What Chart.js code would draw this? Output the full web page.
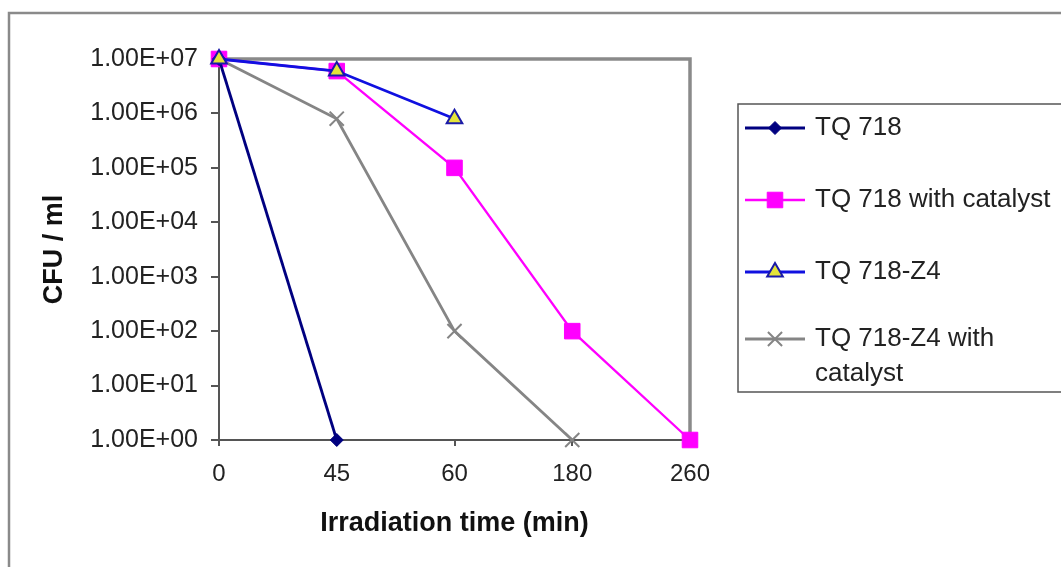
<!DOCTYPE html>
<html>
<head>
<meta charset="utf-8">
<script src="https://cdn.jsdelivr.net/npm/chart.js@4.4.1/dist/chart.umd.min.js"></script>
<style>
  html, body { margin: 0; padding: 0; background: #fff; }
  #wrap { width: 1061px; height: 567px; }
</style>
</head>
<body>
<div id="wrap"><canvas id="cfuChart" width="1061" height="567"></canvas></div>
<script>
// Irradiation time categories (x axis)
const times = ['0', '45', '60', '180', '260'];

// CFU / ml, null where the series has no point
const tq718 = [1e7, 1, null, null, null];
const tq718Catalyst = [1e7, 6e6, 1e5, 1e2, 1];
const tq718Z4 = [1e7, 6e6, 8e5, null, null];
const tq718Z4Catalyst = [1e7, 8e5, 1e2, 1, null];

// y axis ticks, powers of ten
const yTicks = [1, 10, 100, 1e3, 1e4, 1e5, 1e6, 1e7];

const seriesNames = ['TQ 718', 'TQ 718 with catalyst', 'TQ 718-Z4', 'TQ 718-Z4 with catalyst'];

const FONT = '"Liberation Sans", Arial, sans-serif';

function sciLabel(v) {
    const exp = Math.round(Math.log10(v));
    return '1.00E+' + String(exp).padStart(2, '0');
}

// Outer frame of the figure + top/right border of the plot area
const frames = {
    id: 'frames',
    beforeDraw(chart) {
        const ctx = chart.ctx;
        ctx.save();
        ctx.fillStyle = '#fff';
        ctx.fillRect(0, 0, chart.width, chart.height);
        ctx.strokeStyle = '#8a8a8a';
        ctx.lineWidth = 2.5;
        ctx.beginPath();
        ctx.moveTo(9, chart.height);
        ctx.lineTo(9, 13);
        ctx.lineTo(chart.width, 13);
        ctx.stroke();
        ctx.restore();
    },
    beforeDatasetsDraw(chart) {
        const { ctx, chartArea } = chart;
        ctx.save();
        ctx.strokeStyle = '#8a8a8a';
        ctx.lineWidth = 3.5;
        ctx.beginPath();
        ctx.moveTo(chartArea.left, chartArea.top);
        ctx.lineTo(chartArea.right, chartArea.top);
        ctx.lineTo(chartArea.right, chartArea.bottom);
        ctx.stroke();
        ctx.restore();
    }
};

// Legend box on the right, drawn from the dataset styles
const boxLegend = {
    id: 'boxLegend',
    afterDraw(chart) {
        const ctx = chart.ctx;
        const rows = [128, 200, 272, 339];
        const lineH = 35;
        ctx.save();
        ctx.strokeStyle = '#555';
        ctx.lineWidth = 1.5;
        ctx.strokeRect(738, 104, 400, 288);

        ctx.font = '26px ' + FONT;
        ctx.textBaseline = 'middle';
        ctx.textAlign = 'left';

        chart.data.datasets.forEach((ds, i) => {
            const y = rows[i];
            ctx.strokeStyle = ds.borderColor;
            ctx.lineWidth = ds.borderWidth;
            ctx.beginPath();
            ctx.moveTo(745, y);
            ctx.lineTo(805, y);
            ctx.stroke();

            ctx.fillStyle = ds.pointBackgroundColor || ds.borderColor;
            ctx.strokeStyle = ds.pointBorderColor || ds.borderColor;
            ctx.lineWidth = ds.pointBorderWidth;
            Chart.helpers.drawPoint(ctx, {
                pointStyle: ds.pointStyle,
                radius: ds.pointRadius,
                borderWidth: ds.pointBorderWidth,
                rotation: 0
            }, 775, y);

            // wrap the label inside the visible part of the box
            const words = ds.label.split(' ');
            const lines = [];
            let cur = '';
            words.forEach(w => {
                const test = cur ? cur + ' ' + w : w;
                if (ctx.measureText(test).width > 244 && cur) {
                    lines.push(cur);
                    cur = w;
                } else {
                    cur = test;
                }
            });
            lines.push(cur);
            ctx.fillStyle = '#222';
            lines.forEach((t, k) => ctx.fillText(t, 815, y + k * lineH));
        });
        ctx.restore();
    }
};

new Chart(document.getElementById('cfuChart'), {
    type: 'line',
    data: {
        labels: times,
        datasets: [
            {
                label: seriesNames[0], data: tq718,
                borderColor: '#000080', backgroundColor: '#000080',
                pointBackgroundColor: '#000080', pointBorderColor: '#000080',
                pointStyle: 'rectRot', pointRadius: 6.5, pointBorderWidth: 1,
                borderWidth: 2.8, order: 1, clip: false
            },
            {
                label: seriesNames[1], data: tq718Catalyst,
                borderColor: '#ff00ff', backgroundColor: '#ff00ff',
                pointBackgroundColor: '#ff00ff', pointBorderColor: '#ff00ff',
                pointStyle: 'rect', pointRadius: 11, pointBorderWidth: 1,
                borderWidth: 2.3, order: 2, clip: false
            },
            {
                label: seriesNames[2], data: tq718Z4,
                borderColor: '#1010e0', backgroundColor: '#1010e0',
                pointBackgroundColor: '#e4e43a', pointBorderColor: '#1a1aa8',
                pointStyle: 'triangle', pointRadius: 9, pointBorderWidth: 2,
                borderWidth: 2.8, order: 0, clip: false
            },
            {
                label: seriesNames[3], data: tq718Z4Catalyst,
                borderColor: '#858585', backgroundColor: '#858585',
                pointBackgroundColor: '#858585', pointBorderColor: '#858585',
                pointStyle: 'crossRot', pointRadius: 10, pointBorderWidth: 2,
                borderWidth: 2.8, order: 3, clip: false
            }
        ]
    },
    options: {
        responsive: false,
        animation: false,
        layout: { padding: { left: 36, top: 59, right: 371, bottom: 20 } },
        plugins: {
            legend: { display: false },
            tooltip: { enabled: false }
        },
        scales: {
            x: {
                type: 'category',
                offset: false,
                grid: { display: true, drawOnChartArea: false, tickLength: 6, color: '#555', lineWidth: 2 },
                border: { color: '#555', width: 2 },
                ticks: { color: '#222', font: { family: FONT, size: 24 }, padding: 14, maxRotation: 0 },
                title: {
                    display: true, text: 'Irradiation time (min)', color: '#111',
                    font: { family: FONT, size: 27, weight: 'bold' },
                    padding: { top: 0, bottom: 7 }
                },
                afterFit(s) { s.height = 107; }
            },
            y: {
                type: 'logarithmic',
                min: 1,
                max: 1e7,
                afterBuildTicks(s) { s.ticks = yTicks.map(v => ({ value: v })); },
                grid: { display: true, drawOnChartArea: false, tickLength: 8, color: '#555', lineWidth: 2 },
                border: { color: '#555', width: 2 },
                ticks: {
                    color: '#222', font: { family: FONT, size: 25 }, padding: 13,
                    autoSkip: false,
                    callback: v => sciLabel(v)
                },
                title: {
                    display: true, text: 'CFU / ml', color: '#111',
                    font: { family: FONT, size: 27, weight: 'bold' },
                    padding: { top: 2, bottom: 0 }
                },
                afterFit(s) { s.width = 183; }
            }
        }
    },
    plugins: [frames, boxLegend]
});
</script>
</body>
</html>
